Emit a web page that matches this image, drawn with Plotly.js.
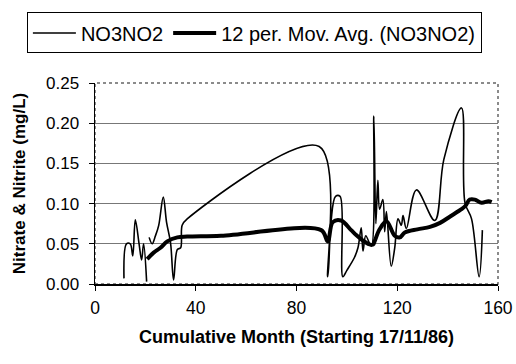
<!DOCTYPE html>
<html>
<head>
<meta charset="utf-8">
<script src="https://cdn.plot.ly/plotly-3.0.1.min.js"></script>
<style>html,body{margin:0;padding:0;background:#fff}#chart{width:516px;height:364px}</style>
</head>
<body>
<div id="chart"></div>
<script>
// NO3NO2 observations (cumulative month, mg/L); null = gap in record
const monthRaw = [11.5, 12.5, 14, 15, 16, 17.5, 18.5, 19.3, 20.5, null,
  21.5, 22.7, 24, 25.3, 27.1, 28.4, 30, 31.2, 32.7, 34, 34.6, 36.6, 89, 92.4,
  93.7, 95.5, 97.3, 98.4, 100, 103, 104.4, 105.7, 106.4, 107.5, 109.7, 110.7, 111.5,
  112.3, 113, 114.3, 115, 115.7, 117.6, 119, 120.3, 121.6, 122.3, 123.6, 127.6,
  134.9, 138.5, 145.5, 146.9, 149.5, 152.5, 153.8];
const no3no2 = [0.007, 0.050, 0.050, 0.035, 0.080, 0.050, 0.030, 0.050, 0.003, null,
  0.058, 0.050, 0.060, 0.073, 0.108, 0.077, 0.051, 0.005, 0.043, 0.045, 0.073, 0.081, 0.171, 0.009,
  0.077, 0.109, 0.109, 0.009, 0.017, 0.033, 0.045, 0.070, 0.041, 0.060, 0.047, 0.209, 0.075,
  0.129, 0.093, 0.105, 0.065, 0.090, 0.022, 0.045, 0.081, 0.073, 0.085, 0.069, 0.117,
  0.079, 0.155, 0.219, 0.101, 0.081, 0.009, 0.067];

// 12 period moving average
const monthAvg = [20.7, 23.3, 26, 28.7, 32.7, 36.6, 50, 89.8, 92.4, 94.4, 97.7, 101.7,
  103.7, 106, 108.4, 110.4, 111, 113, 115.7, 119, 121, 123, 128, 133, 137, 141,
  145.5, 147, 148.8, 150.8, 153.5, 156.2, 157.5];
const movAvg = [0.031, 0.039, 0.045, 0.053, 0.058, 0.059, 0.060, 0.067, 0.053, 0.077, 0.079, 0.067,
  0.061, 0.055, 0.050, 0.049, 0.053, 0.068, 0.078, 0.060, 0.058, 0.064, 0.068, 0.071, 0.076, 0.084,
  0.093, 0.097, 0.105, 0.105, 0.101, 0.103, 0.102];

const xTicks = [0, 40, 80, 120, 160];
const yTicks = [0.00, 0.05, 0.10, 0.15, 0.20, 0.25];

const font = 'Liberation Sans, Arial, sans-serif';

const traces = [
  {x: monthRaw, y: no3no2, name: 'NO3NO2', mode: 'lines', connectgaps: false,
   line: {color: '#000', width: 1.6, shape: 'spline', smoothing: 1}},
  {x: monthAvg, y: movAvg, name: '12 per. Mov. Avg. (NO3NO2)', mode: 'lines',
   line: {color: '#000', width: 4, shape: 'spline', smoothing: 1}}
];

const layout = {
  width: 516, height: 364,
  margin: {l: 95, r: 18, t: 76, b: 80},
  paper_bgcolor: '#fff', plot_bgcolor: '#fff',
  font: {family: font, color: '#000', size: 17},
  showlegend: true,
  legend: {orientation: 'h', xref: 'paper', yref: 'paper', x: -0.169, xanchor: 'left',
    y: 1.351, yanchor: 'top', itemwidth: 43,
    bordercolor: '#000', borderwidth: 1, font: {size: 20, family: font},
    tracegroupgap: 0},
  xaxis: {range: [0, 160], tickvals: xTicks, ticktext: xTicks.map(String),
    ticks: 'outside', ticklen: 5, tickcolor: '#000', showgrid: false, zeroline: false,
    showline: true, linecolor: '#000', linewidth: 1.5,
    tickfont: {size: 17.5}, ticklabelstandoff: 2,
    title: {text: '<b>Cumulative Month (Starting 17/11/86)</b>', font: {size: 18}, standoff: 14}},
  yaxis: {range: [0, 0.25], tickvals: yTicks, ticktext: yTicks.map(v => v.toFixed(2)),
    ticks: 'outside', ticklen: 5, tickcolor: '#000', showgrid: true, gridcolor: '#777', gridwidth: 1,
    zeroline: false, showline: true, linecolor: '#000', linewidth: 1.5,
    tickfont: {size: 17}, ticklabelstandoff: 6,
    title: {text: '<b>Nitrate & Nitrite (mg/L)</b>', font: {size: 17}, standoff: 16}},
  shapes: [{type: 'rect', xref: 'paper', yref: 'paper', x0: 0, x1: 1, y0: 0, y1: 1,
    line: {color: '#666', width: 1.5, dash: 'dot'}, layer: 'below'}]
};

Plotly.newPlot('chart', traces, layout, {staticPlot: true, displayModeBar: false});
</script>
</body>
</html>
